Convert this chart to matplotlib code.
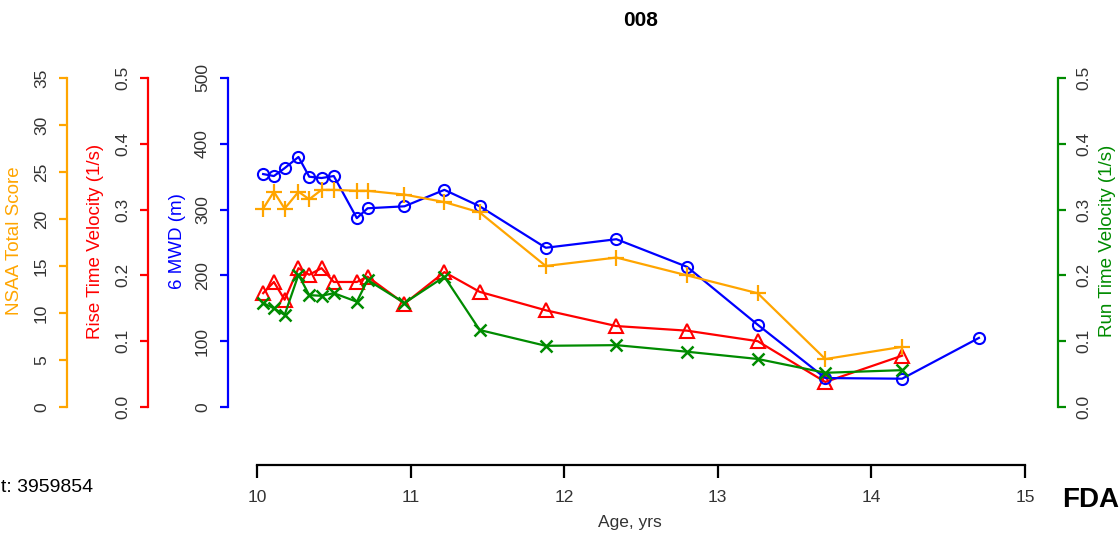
import matplotlib.pyplot as plt

plt.rcParams['font.family'] = ['Liberation Sans', 'DejaVu Sans']

# ages of visits (yrs)
age = [10.04, 10.11, 10.18, 10.27, 10.34, 10.42, 10.50, 10.65, 10.72, 10.96,
       11.22, 11.45, 11.88, 12.34, 12.80, 13.26, 13.70, 14.20]
age_6mwd = age + [14.70]

nsaa = [21.1, 22.9, 21.1, 22.9, 22.1, 23.1, 23.1, 23.0, 23.0, 22.6,
        21.8, 20.7, 15.0, 15.9, 14.0, 12.1, 5.1, 6.4]
rise_vel = [0.173, 0.190, 0.163, 0.211, 0.201, 0.211, 0.190, 0.190, 0.198, 0.157,
            0.205, 0.175, 0.147, 0.123, 0.116, 0.100, 0.038, 0.078]
run_vel = [0.158, 0.150, 0.140, 0.201, 0.170, 0.169, 0.173, 0.160, 0.193, 0.158,
           0.198, 0.117, 0.093, 0.094, 0.084, 0.073, 0.052, 0.056]
mwd6 = [354, 351, 363, 380, 350, 348, 351, 287, 302, 305,
        330, 305, 242, 255, 213, 125, 44, 43, 105]

xticks = [10, 11, 12, 13, 14, 15]
nsaa_ticks = [0, 5, 10, 15, 20, 25, 30, 35]
vel_ticks = [0.0, 0.1, 0.2, 0.3, 0.4, 0.5]
mwd_ticks = [0, 100, 200, 300, 400, 500]

ORANGE = '#FFA500'
RED = '#FF0000'
BLUE = '#0000FF'
GREEN = '#008B00'

W, H = 1120, 533
fig = plt.figure(figsize=(W / 100, H / 100), dpi=100)
L, R, T, B = 257, 1025, 78, 407
ax = fig.add_axes([L / W, 1 - B / H, (R - L) / W, (B - T) / H])
ax_b = ax.twinx()
ax_o = ax.twinx()
ax_g = ax.twinx()


def style_y(a, side, offset, color, lim, ticks, labels):
    for s in a.spines.values():
        s.set_visible(False)
    sp = a.spines[side]
    sp.set_visible(True)
    sp.set_position(('outward', offset * 0.72))
    sp.set_color(color)
    sp.set_linewidth(1.6)
    sp.set_bounds(lim[0], lim[1])
    a.set_ylim(*lim)
    a.yaxis.set_ticks_position(side)
    a.set_yticks(ticks)
    a.set_yticklabels(labels, rotation=90, va='center')
    a.tick_params(axis='y', colors=color, labelcolor='#333333', length=6,
                  width=1.6, pad=7, labelsize=12.5)


style_y(ax, 'left', L - 148, RED, (0, 0.5), vel_ticks, [f'{v:.1f}' for v in vel_ticks])
style_y(ax_b, 'left', L - 228, BLUE, (0, 500), mwd_ticks, [str(v) for v in mwd_ticks])
style_y(ax_o, 'left', L - 67, ORANGE, (0, 35), nsaa_ticks, [str(v) for v in nsaa_ticks])
style_y(ax_g, 'right', 1058 - R, GREEN, (0, 0.5), vel_ticks, [f'{v:.1f}' for v in vel_ticks])

# x axis, detached below the plot
ax.spines['bottom'].set_visible(True)
ax.spines['bottom'].set_position(('outward', (465 - B) * 0.72))
ax.spines['bottom'].set_bounds(10, 15)
ax.spines['bottom'].set_linewidth(1.6)
ax.set_xlim(10, 15)
ax.set_xticks(xticks)
ax.set_xticklabels([str(v) for v in xticks])
ax.tick_params(axis='x', length=9, width=1.6, pad=9, labelsize=12.5, labelcolor='#333333')

ax.plot(age, rise_vel, color=RED, lw=1.6, marker='^', ms=10, mfc='none', mew=1.5, clip_on=False)
ax_b.plot(age_6mwd, mwd6, color=BLUE, lw=1.6, marker='o', ms=8, mfc='none', mew=1.5, clip_on=False)
ax_o.plot(age, nsaa, color=ORANGE, lw=1.6, marker='+', ms=12, mew=1.6, clip_on=False)
ax_g.plot(age, run_vel, color=GREEN, lw=1.6, marker='x', ms=9, mew=1.8, clip_on=False)

# axis labels, title and captions
fig.text(15 / W, 1 - 241 / H, 'NSAA Total Score', rotation=90, color=ORANGE,
         ha='center', va='center', fontsize=13.5)
fig.text(95 / W, 1 - 241 / H, 'Rise Time Velocity (1/s)', rotation=90, color=RED,
         ha='center', va='center', fontsize=13.5)
fig.text(178 / W, 1 - 241 / H, '6 MWD (m)', rotation=90, color=BLUE,
         ha='center', va='center', fontsize=13.5)
fig.text(1108 / W, 1 - 241 / H, 'Run Time Velocity (1/s)', rotation=90, color=GREEN,
         ha='center', va='center', fontsize=13.5)
fig.text(641 / W, 1 - 20 / H, '008', fontweight='bold', fontsize=15, ha='center', va='center')
fig.text(630 / W, 1 - 522 / H, 'Age, yrs', fontsize=12.5, ha='center', va='center', color='#333333')
fig.text(1 / W, 1 - 487 / H, 't: 3959854', fontsize=14, ha='left', va='center')
fig.text(1062 / W, 1 - 500 / H, 'FDA', fontweight='heavy', fontsize=20, ha='left', va='center')

fig.savefig('out.png', dpi=100)
